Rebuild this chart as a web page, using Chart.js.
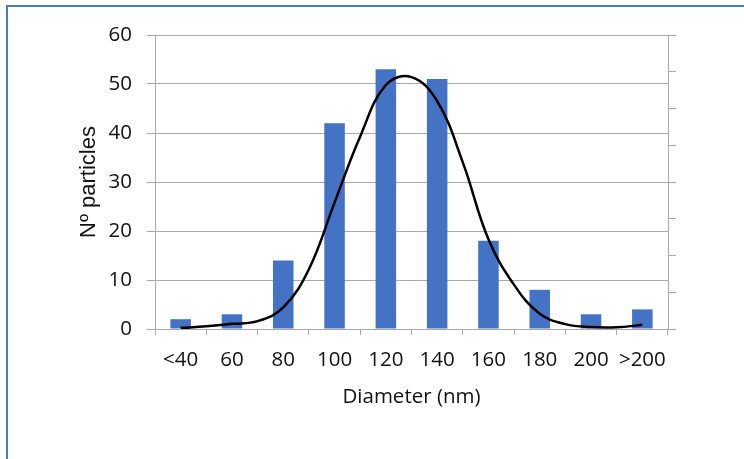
<!DOCTYPE html>
<html>
<head>
<meta charset="utf-8">
<script src="https://cdn.jsdelivr.net/npm/chart.js@4/dist/chart.umd.min.js"></script>
<style>
  html, body { margin: 0; padding: 0; background: #fff; }
  #frame {
    position: absolute; left: 6px; top: 5px; width: 740px; height: 456px;
    border-left: 2px solid #4a7ebb; border-top: 2px solid #4a7ebb;
  }
  #wrap { position: absolute; left: 0; top: 0; width: 744px; height: 459px; }
</style>
</head>
<body>
<div id="frame"></div>
<div id="wrap"><canvas id="chart" width="744" height="459"></canvas></div>
<script>
// histogram bins
var sizeLabels = ['<40', '60', '80', '100', '120', '140', '160', '180', '200', '>200'];
var particleCounts = [2, 3, 14, 42, 53, 51, 18, 8, 3, 4];

// fitted distribution curve (diameter in nm, counts)
var fitDiameter = [40, 50, 60, 70, 80, 90, 100, 110, 120, 130, 140, 150, 160, 170, 180, 190, 200, 210, 220];
var fitCount = [0.2, 0.55, 1.05, 1.6, 4.4, 12.2, 25.8, 39.3, 49.8, 51.4, 46.5, 34, 18.3, 9, 3.1, 1.0, 0.4, 0.35, 0.85];

var fitPoints = fitDiameter.map(function (d, i) { return { x: d, y: fitCount[i] }; });

var axisGrey = '#a9a9a9';
var font = { family: 'Open Sans', size: 20.5 };

var ctx = document.getElementById('chart').getContext('2d');
var chart = new Chart(ctx, {
  type: 'bar',
  data: {
    labels: sizeLabels,
    datasets: [{
      type: 'line',
      data: fitPoints,
      xAxisID: 'x2',
      yAxisID: 'y2',
      borderColor: '#000',
      borderWidth: 2.5,
      pointRadius: 0,
      tension: 0.4,
      fill: false,
      order: 0
    }, {
      data: particleCounts,
      xAxisID: 'x',
      yAxisID: 'y',
      backgroundColor: '#4472c4',
      grouped: false,
      barPercentage: 0.4,
      categoryPercentage: 1.0,
      order: 1
    }]
  },
  options: {
    responsive: false,
    animation: false,
    layout: { padding: { top: 35, left: 0, right: 0, bottom: 0 } },
    plugins: { legend: { display: false }, tooltip: { enabled: false } },
    scales: {
      x: {
        type: 'category',
        offset: true,
        grid: { offset: true, drawOnChartArea: false, color: axisGrey, tickLength: 6 },
        border: { color: axisGrey },
        ticks: { color: '#111', font: font, padding: 13, maxRotation: 0, autoSkip: false },
        title: { display: true, text: 'Diameter (nm)', color: '#111', font: font,
                 padding: { top: 0, bottom: 50 } },
        afterFit: function (s) { s.height = 130; }
      },
      x2: {
        type: 'linear', display: false, offset: false, min: 30, max: 230
      },
      y: {
        position: 'left', min: 0, max: 60,
        grid: { color: axisGrey, tickLength: 8 },
        border: { color: axisGrey },
        ticks: { stepSize: 10, color: '#111', font: font, padding: 15 },
        title: { display: true, text: 'Nº particles', color: '#111',
                 font: { family: 'Liberation Sans', size: 22 },
                 padding: { top: 76, bottom: 0 } },
        afterFit: function (s) { s.width = 155; }
      },
      y2: {
        position: 'right', min: 0, max: 60,
        grid: { drawOnChartArea: false, color: axisGrey, tickLength: 8 },
        border: { color: axisGrey },
        ticks: { stepSize: 7.5, callback: function () { return ''; } },
        afterFit: function (s) { s.width = 76; }
      }
    }
  }
});
</script>
</body>
</html>
